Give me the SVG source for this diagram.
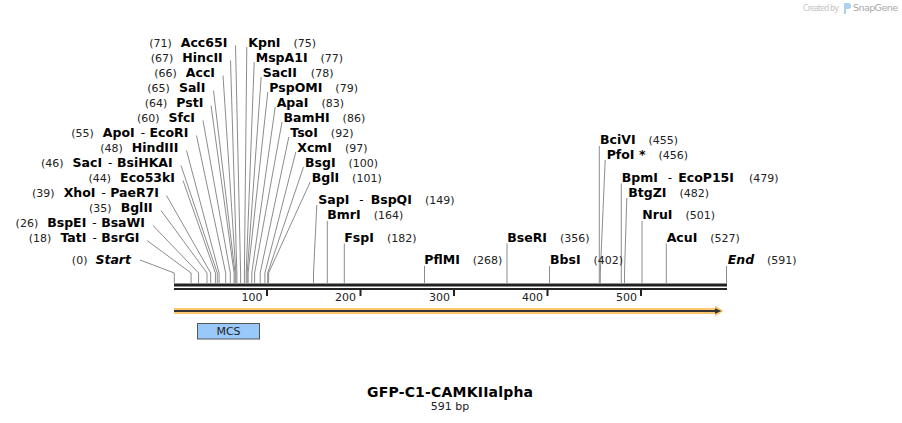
<svg xmlns="http://www.w3.org/2000/svg" width="902" height="423" viewBox="0 0 902 423">
<style>
text{font-family:"DejaVu Sans",Verdana,sans-serif;}
.n{font-size:12.5px;font-weight:bold;fill:#000;}
.i{font-size:12.5px;font-weight:bold;font-style:italic;fill:#000;}
.d{font-size:11px;font-weight:normal;fill:#222;}
.h{font-size:12px;font-weight:normal;fill:#000;}
.e{text-anchor:end;}
.l{fill:none;stroke:#8c8c8c;stroke-width:1;}
.t{font-size:11px;fill:#222;text-anchor:end;}
</style>
<rect width="902" height="423" fill="#fff"/>
<g id="logo">
<text x="803" y="10.5" style="font-size:8px;fill:#c4c4c4;" textLength="36">Created by</text>
<path d="M844,3 h4 a3,3 0 0 1 0,6 h-2 v5 h-2 z" fill="#a9d2f2"/>
<text x="853" y="10.8" style="font-size:9.5px;fill:#a8a8a8;" textLength="45">SnapGene</text>
</g>
<g id="connectors">
<polyline class="l" points="140,260 174.3,273 174.3,283"/>
<polyline class="l" points="147,240.5 191.1,273 191.1,283"/>
<polyline class="l" points="153,225.5 198.6,273 198.6,283"/>
<polyline class="l" points="161,210.5 207,273 207,283"/>
<polyline class="l" points="166.5,195.5 210.7,273 210.7,283"/>
<polyline class="l" points="183,180.5 215.4,273 215.4,283"/>
<polyline class="l" points="181,165.5 217.3,273 217.3,283"/>
<polyline class="l" points="186.5,150.5 219.1,273 219.1,283"/>
<polyline class="l" points="196.5,135.5 225.7,273 225.7,283"/>
<polyline class="l" points="203,120.5 230.3,273 230.3,283"/>
<polyline class="l" points="211,105.5 234.1,273 234.1,283"/>
<polyline class="l" points="213.5,90.5 235,273 235,283"/>
<polyline class="l" points="223,75.5 235.9,273 235.9,283"/>
<polyline class="l" points="230.5,60.5 236.9,273 236.9,283"/>
<polyline class="l" points="235.5,45.5 240.6,273 240.6,283"/>
<polyline class="l" points="246.8,47 244.4,273 244.4,283"/>
<polyline class="l" points="254.2,62 246.2,273 246.2,283"/>
<polyline class="l" points="261.2,77 247.2,273 247.2,283"/>
<polyline class="l" points="267.8,92 248.1,273 248.1,283"/>
<polyline class="l" points="275.2,107 251.8,273 251.8,283"/>
<polyline class="l" points="282,122 254.6,273 254.6,283"/>
<polyline class="l" points="288.8,137 260.2,273 260.2,283"/>
<polyline class="l" points="295.8,152 264.9,273 264.9,283"/>
<polyline class="l" points="303.5,167 267.7,273 267.7,283"/>
<polyline class="l" points="310.2,182 268.6,273 268.6,283"/>
<polyline class="l" points="316.8,205 313.5,273 313.5,283"/>
<polyline class="l" points="327.3,221 327.3,283"/>
<polyline class="l" points="344.3,243.5 344.3,283"/>
<polyline class="l" points="424.5,266 424.5,283"/>
<polyline class="l" points="507,243.5 507,283"/>
<polyline class="l" points="549.5,266 549.5,283"/>
<polyline class="l" points="599.3,146 599.3,283"/>
<polyline class="l" points="605.2,160 600.3,273 600.3,283"/>
<polyline class="l" points="621.3,183.5 621.3,283"/>
<polyline class="l" points="626.8,198 624.5,273 624.5,283"/>
<polyline class="l" points="642,221 642,283"/>
<polyline class="l" points="666.3,243.5 666.3,283"/>
<polyline class="l" points="726.5,266 726.5,283"/>
</g>
<g id="backbone">
<rect x="174" y="283.5" width="553" height="3" fill="#222"/>
<rect x="174" y="288" width="553" height="2" fill="#222"/>
<rect x="266" y="290" width="2" height="6" fill="#222"/>
<rect x="359.5" y="290" width="2" height="6" fill="#222"/>
<rect x="453" y="290" width="2" height="6" fill="#222"/>
<rect x="546.5" y="290" width="2" height="6" fill="#222"/>
<rect x="640" y="290" width="2" height="6" fill="#222"/>
<text class="t" x="262.5" y="300.5">100</text>
<text class="t" x="356" y="300.5">200</text>
<text class="t" x="450" y="300.5">300</text>
<text class="t" x="543" y="300.5">400</text>
<text class="t" x="637" y="300.5">500</text>
</g>
<g id="feature-arrow">
<polygon points="174,308 715,308 715,305.5 723.5,311 715,316.5 715,314 174,314" fill="#fcc76e"/>
<rect x="174" y="310" width="543" height="2" fill="#333"/>
<polygon points="715,308.3 721.5,311 715,313.7" fill="#333"/>
</g>
<g id="mcs">
<rect x="197.5" y="323.5" width="62" height="15.5" fill="#99c9fb" stroke="#555" stroke-width="1"/>
<text x="228.5" y="335" style="font-size:11px;fill:#222;text-anchor:middle;">MCS</text>
</g>
<g id="title">
<text x="450" y="396.7" style="font-size:14px;font-weight:bold;fill:#000;text-anchor:middle;" textLength="166">GFP-C1-CAMKIIalpha</text>
<text x="450" y="409.7" style="font-size:11px;fill:#222;text-anchor:middle;">591 bp</text>
</g>
<g id="site-start"><text class="e" x="131" y="264"><tspan class="d">(0)</tspan><tspan class="i" dx="8">Start</tspan></text></g>
<g id="site-18"><text class="e" x="139.3" y="241.5"><tspan class="d">(18)</tspan><tspan class="n" dx="9">TatI</tspan><tspan class="h" dx="6">-</tspan><tspan class="n" dx="4.5">BsrGI</tspan></text></g>
<g id="site-26"><text class="e" x="145" y="226.5"><tspan class="d">(26)</tspan><tspan class="n" dx="9">BspEI</tspan><tspan class="h" dx="6">-</tspan><tspan class="n" dx="4.5">BsaWI</tspan></text></g>
<g id="site-35"><text class="e" x="152.7" y="211.5"><tspan class="d">(35)</tspan><tspan class="n" dx="9">BglII</tspan></text></g>
<g id="site-39"><text class="e" x="159" y="196.5"><tspan class="d">(39)</tspan><tspan class="n" dx="9">XhoI</tspan><tspan class="h" dx="6">-</tspan><tspan class="n" dx="4.5">PaeR7I</tspan></text></g>
<g id="site-44"><text class="e" x="175" y="181.5"><tspan class="d">(44)</tspan><tspan class="n" dx="9">Eco53kI</tspan></text></g>
<g id="site-46"><text class="e" x="172.7" y="166.5"><tspan class="d">(46)</tspan><tspan class="n" dx="9">SacI</tspan><tspan class="h" dx="6">-</tspan><tspan class="n" dx="4.5">BsiHKAI</tspan></text></g>
<g id="site-48"><text class="e" x="178.3" y="151.5"><tspan class="d">(48)</tspan><tspan class="n" dx="9">HindIII</tspan></text></g>
<g id="site-55"><text class="e" x="188.3" y="136.5"><tspan class="d">(55)</tspan><tspan class="n" dx="9">ApoI</tspan><tspan class="h" dx="6">-</tspan><tspan class="n" dx="4.5">EcoRI</tspan></text></g>
<g id="site-60"><text class="e" x="195" y="121.5"><tspan class="d">(60)</tspan><tspan class="n" dx="9">SfcI</tspan></text></g>
<g id="site-64"><text class="e" x="203.3" y="106.5"><tspan class="d">(64)</tspan><tspan class="n" dx="9">PstI</tspan></text></g>
<g id="site-65"><text class="e" x="205.3" y="91.5"><tspan class="d">(65)</tspan><tspan class="n" dx="9">SalI</tspan></text></g>
<g id="site-66"><text class="e" x="215" y="76.5"><tspan class="d">(66)</tspan><tspan class="n" dx="9">AccI</tspan></text></g>
<g id="site-67"><text class="e" x="222.7" y="61.5"><tspan class="d">(67)</tspan><tspan class="n" dx="9">HincII</tspan></text></g>
<g id="site-71"><text class="e" x="227.3" y="46.5"><tspan class="d">(71)</tspan><tspan class="n" dx="9">Acc65I</tspan></text></g>
<g id="site-75"><text x="248.3" y="46.5"><tspan class="n">KpnI</tspan><tspan class="d" dx="13">(75)</tspan></text></g>
<g id="site-77"><text x="255.7" y="61.5"><tspan class="n">MspA1I</tspan><tspan class="d" dx="13">(77)</tspan></text></g>
<g id="site-78"><text x="262.7" y="76.5"><tspan class="n">SacII</tspan><tspan class="d" dx="14">(78)</tspan></text></g>
<g id="site-79"><text x="269.3" y="91.5"><tspan class="n">PspOMI</tspan><tspan class="d" dx="13">(79)</tspan></text></g>
<g id="site-83"><text x="276.7" y="106.5"><tspan class="n">ApaI</tspan><tspan class="d" dx="13">(83)</tspan></text></g>
<g id="site-86"><text x="283.5" y="121.5"><tspan class="n">BamHI</tspan><tspan class="d" dx="13">(86)</tspan></text></g>
<g id="site-92"><text x="290.3" y="136.5"><tspan class="n">TsoI</tspan><tspan class="d" dx="13">(92)</tspan></text></g>
<g id="site-97"><text x="297.3" y="151.5"><tspan class="n">XcmI</tspan><tspan class="d" dx="13">(97)</tspan></text></g>
<g id="site-100"><text x="305" y="166.5"><tspan class="n">BsgI</tspan><tspan class="d" dx="13">(100)</tspan></text></g>
<g id="site-101"><text x="311.7" y="181.5"><tspan class="n">BglI</tspan><tspan class="d" dx="13">(101)</tspan></text></g>
<g id="site-149"><text x="318.3" y="204"><tspan class="n">SapI</tspan><tspan class="h" dx="10">-</tspan><tspan class="n" dx="7">BspQI</tspan><tspan class="d" dx="13">(149)</tspan></text></g>
<g id="site-164"><text x="327.3" y="219"><tspan class="n">BmrI</tspan><tspan class="d" dx="13">(164)</tspan></text></g>
<g id="site-182"><text x="344.3" y="241.5"><tspan class="n">FspI</tspan><tspan class="d" dx="13">(182)</tspan></text></g>
<g id="site-268"><text x="424.3" y="264"><tspan class="n">PflMI</tspan><tspan class="d" dx="13">(268)</tspan></text></g>
<g id="site-356"><text x="507.3" y="241.5"><tspan class="n">BseRI</tspan><tspan class="d" dx="13">(356)</tspan></text></g>
<g id="site-402"><text x="550" y="264"><tspan class="n">BbsI</tspan><tspan class="d" dx="13">(402)</tspan></text></g>
<g id="site-455"><text x="600" y="144"><tspan class="n">BciVI</tspan><tspan class="d" dx="13">(455)</tspan></text></g>
<g id="site-456"><text x="606.7" y="159"><tspan class="n">PfoI *</tspan><tspan class="d" dx="13">(456)</tspan></text></g>
<g id="site-479"><text x="621.7" y="181.5"><tspan class="n">BpmI</tspan><tspan class="h" dx="10">-</tspan><tspan class="n" dx="6">EcoP15I</tspan><tspan class="d" dx="15">(479)</tspan></text></g>
<g id="site-482"><text x="628.3" y="196.5"><tspan class="n">BtgZI</tspan><tspan class="d" dx="13">(482)</tspan></text></g>
<g id="site-501"><text x="642.3" y="219"><tspan class="n">NruI</tspan><tspan class="d" dx="13">(501)</tspan></text></g>
<g id="site-527"><text x="666.7" y="241.5"><tspan class="n">AcuI</tspan><tspan class="d" dx="13">(527)</tspan></text></g>
<g id="site-end"><text x="727.7" y="264"><tspan class="i">End</tspan><tspan class="d" dx="13">(591)</tspan></text></g>
</svg>
